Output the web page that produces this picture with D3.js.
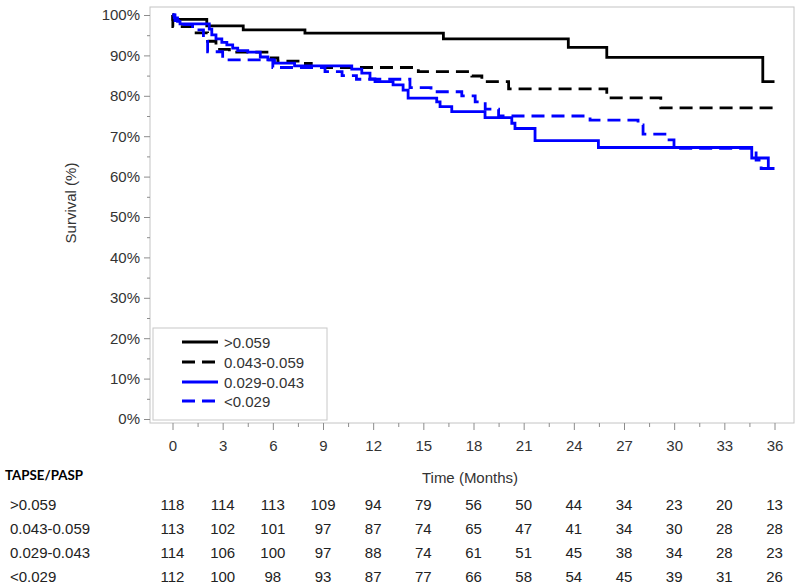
<!DOCTYPE html>
<html>
<head>
<meta charset="utf-8">
<script src="https://cdn.jsdelivr.net/npm/d3@7"></script>
<style>
  html, body { margin: 0; padding: 0; background: #fff; }
  svg { display: block; }
</style>
</head>
<body>
<svg id="chart" width="800" height="586"></svg>
<script>
// ---------------- DATA ----------------
const groups = [">0.059", "0.043-0.059", "0.029-0.043", "<0.029"];
const months = [0, 3, 6, 9, 12, 15, 18, 21, 24, 27, 30, 33, 36];
const minorMonths = [1.5, 4.5, 7.5, 10.5, 13.5, 16.5, 19.5, 22.5, 25.5, 28.5, 31.5, 34.5];
const yTicks = [0, 10, 20, 30, 40, 50, 60, 70, 80, 90, 100];
const yMinor = [5, 15, 25, 35, 45, 55, 65, 75, 85, 95];

// Kaplan-Meier step curves (time in months, survival in %)
const g1Time = [0, 0.02, 2.05, 4.23, 7.92, 16.2, 23.67, 25.97, 35.3, 36];
const g1Surv = [100, 98.9, 97.3, 96.3, 95.5, 94.1, 92.0, 89.5, 83.5, 83.5];

const g2Time = [0, 0.02, 1.2, 2.1, 2.6, 3.4, 5.8, 6.3, 7.6, 8.3, 14.7, 17.9, 18.5, 20.1, 25.97, 29.2, 36];
const g2Surv = [100, 97.1, 95.6, 93.5, 91.5, 90.8, 89.4, 88.6, 88.0, 87.0, 86.0, 84.9, 83.5, 81.7, 79.5, 77.0, 77.0];

const g3Time = [0, 0.1, 0.3, 0.45, 2.2, 2.35, 2.6, 2.95, 3.25, 3.6, 3.9, 4.5, 5.25, 5.7, 6.1, 7.3, 10.72, 11.32, 11.81, 12.11, 13.19, 13.79, 14.09, 15.8, 16.0, 16.7, 18.69, 20.29, 20.48, 21.68, 25.47, 34.64, 35.63, 36];
const g3Surv = [100, 99.3, 98.4, 97.8, 96.5, 95.1, 94.1, 93.2, 92.6, 91.8, 91.2, 90.8, 89.6, 88.9, 88.1, 87.4, 86.6, 85.6, 84.2, 83.5, 82.7, 81.4, 79.4, 78.5, 77.3, 76.1, 74.6, 73.2, 71.9, 68.9, 67.2, 64.6, 62.0, 62.0];

const g4Time = [0, 0.15, 0.45, 1.2, 1.85, 2.1, 3.0, 6.0, 9.12, 10.14, 11.0, 14.2, 15.46, 17.3, 18.1, 18.7, 19.5, 24.97, 27.84, 28.14, 29.57, 29.99, 34.9, 35.2, 36];
const g4Surv = [100, 98.6, 97.6, 96.3, 94.3, 90.9, 88.9, 87.0, 86.0, 85.0, 84.1, 82.0, 81.0, 80.0, 78.5, 76.7, 75.0, 74.0, 72.8, 70.5, 69.1, 67.0, 64.1, 62.0, 62.0];

// Number at risk
const atRisk1 = [118, 114, 113, 109, 94, 79, 56, 50, 44, 34, 23, 20, 13];
const atRisk2 = [113, 102, 101, 97, 87, 74, 65, 47, 41, 34, 30, 28, 28];
const atRisk3 = [114, 106, 100, 97, 88, 74, 61, 51, 45, 38, 34, 28, 23];
const atRisk4 = [112, 100, 98, 93, 87, 77, 66, 58, 54, 45, 39, 31, 26];

const tableTitle = "TAPSE/PASP";
const xTitle = "Time (Months)";
const yTitle = "Survival (%)";

// ---------------- LAYOUT ----------------
const frame = { left: 150, right: 794, top: 7, bottom: 423 };
const x = d3.scaleLinear().domain([0, 36]).range([172.5, 774.5]);
const y = d3.scaleLinear().domain([0, 100]).range([419, 15]);

const styles = [
  { color: "#000000", dash: null },
  { color: "#000000", dash: "13,7" },
  { color: "#0000ff", dash: null },
  { color: "#0000ff", dash: "13,7" }
];
const series = [
  { t: g1Time, s: g1Surv },
  { t: g2Time, s: g2Surv },
  { t: g3Time, s: g3Surv },
  { t: g4Time, s: g4Surv }
];
const risks = [atRisk1, atRisk2, atRisk3, atRisk4];

const font = "Arial, 'Liberation Sans', Helvetica, sans-serif";
const svg = d3.select("#chart");

// Frame
svg.append("rect")
  .attr("x", frame.left).attr("y", frame.top)
  .attr("width", frame.right - frame.left).attr("height", frame.bottom - frame.top)
  .attr("fill", "none").attr("stroke", "#c4c4c4").attr("stroke-width", 1);

// X axis
const xAxisG = svg.append("g").attr("transform", `translate(0,${frame.bottom})`)
  .call(d3.axisBottom(x).tickValues(months).tickSize(7).tickPadding(10).tickSizeOuter(0));
const xMinorG = svg.append("g").attr("transform", `translate(0,${frame.bottom})`)
  .call(d3.axisBottom(x).tickValues(minorMonths).tickSize(4).tickFormat("").tickSizeOuter(0));

// Y axis
const yAxisG = svg.append("g").attr("transform", `translate(${frame.left},0)`)
  .call(d3.axisLeft(y).tickValues(yTicks).tickFormat(d => d + "%").tickSize(6).tickPadding(4).tickSizeOuter(0));
const yMinorG = svg.append("g").attr("transform", `translate(${frame.left},0)`)
  .call(d3.axisLeft(y).tickValues(yMinor).tickSize(3).tickFormat("").tickSizeOuter(0));

[xAxisG, xMinorG, yAxisG, yMinorG].forEach(g => {
  g.select(".domain").remove();
  g.selectAll(".tick line").attr("stroke", "#8c8c8c");
  g.selectAll(".tick text").attr("font-family", font).attr("font-size", 15).attr("fill", "#333");
});

// Axis titles
svg.append("text")
  .attr("transform", "translate(76,203) rotate(-90)")
  .attr("text-anchor", "middle")
  .attr("font-family", font).attr("font-size", 15).attr("fill", "#333")
  .text(yTitle);

svg.append("text")
  .attr("x", 470).attr("y", 483)
  .attr("text-anchor", "middle")
  .attr("font-family", font).attr("font-size", 15).attr("fill", "#333")
  .text(xTitle);

// Curves
const line = d3.line()
  .x(d => x(d[0]))
  .y(d => y(d[1]))
  .curve(d3.curveStepAfter);

series.forEach((sr, i) => {
  const pts = sr.t.map((t, k) => [t, sr.s[k]]);
  svg.append("path")
    .datum(pts)
    .attr("d", line)
    .attr("fill", "none")
    .attr("stroke", styles[i].color)
    .attr("stroke-width", 2.8)
    .attr("stroke-dasharray", styles[i].dash);
});

// Legend
const lg = svg.append("g");
lg.append("rect")
  .attr("x", 153).attr("y", 328).attr("width", 174).attr("height", 92)
  .attr("fill", "#fff").attr("stroke", "#c8c8c8").attr("stroke-width", 1);
const legendRowY = [342, 362, 382, 401];
groups.forEach((g, i) => {
  lg.append("line")
    .attr("x1", 182).attr("x2", 218)
    .attr("y1", legendRowY[i]).attr("y2", legendRowY[i])
    .attr("stroke", styles[i].color).attr("stroke-width", 2.8)
    .attr("stroke-dasharray", styles[i].dash);
  lg.append("text")
    .attr("x", 224).attr("y", legendRowY[i] + 5.5)
    .attr("font-family", font).attr("font-size", 15).attr("fill", "#333")
    .text(g);
});

// Risk table
svg.append("text")
  .attr("x", 5).attr("y", 480)
  .attr("font-family", "Lato, 'Open Sans', sans-serif").attr("font-weight", "bold")
  .attr("font-size", 14).attr("fill", "#000")
  .attr("textLength", 78).attr("lengthAdjust", "spacingAndGlyphs")
  .text(tableTitle);

const rowBase = [510, 534, 558, 581.5];
groups.forEach((g, i) => {
  svg.append("text")
    .attr("x", 10).attr("y", rowBase[i])
    .attr("font-family", font).attr("font-size", 15).attr("fill", "#222")
    .text(g);
  svg.append("g").selectAll("text")
    .data(risks[i])
    .join("text")
    .attr("x", (d, k) => x(months[k]))
    .attr("y", rowBase[i])
    .attr("text-anchor", "middle")
    .attr("font-family", font).attr("font-size", 15).attr("fill", "#222")
    .text(d => d);
});
</script>
</body>
</html>
